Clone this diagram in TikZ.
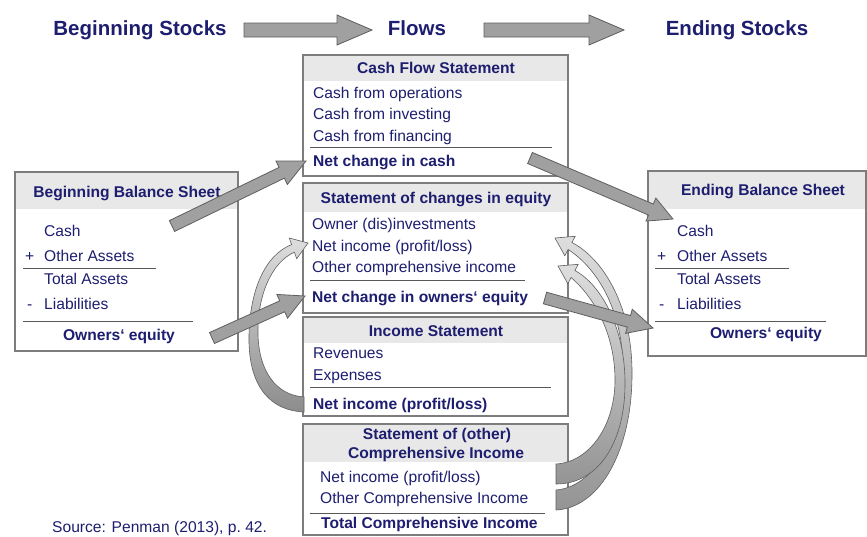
\documentclass[tikz,border=0pt]{standalone}
\usepackage{fontspec}
\setmainfont{Liberation Sans}
\usetikzlibrary{calc}

\definecolor{ink}{RGB}{30,30,112}
\definecolor{band}{RGB}{232,232,232}
\definecolor{frame}{RGB}{125,125,125}
\definecolor{arrowfill}{RGB}{160,160,160}
\definecolor{arrowline}{RGB}{95,95,95}

% straight block arrow: start, tip, shaft half width, head half width, head length
\newcommand\blockarrow[5]{%
  \coordinate (ba-h) at ($(#2)!#5!(#1)$);
  \draw[flowarrow]
    ($(#1)!#3!90:(#2)$) -- ($(ba-h)!#3!90:(#2)$) -- ($(ba-h)!#4!90:(#2)$)
    -- (#2)
    -- ($(ba-h)!#4!-90:(#2)$) -- ($(ba-h)!#3!-90:(#2)$) -- ($(#1)!#3!-90:(#2)$)
    -- cycle;}

\begin{document}
\begin{tikzpicture}[x=1pt,y=-1pt,
  txt/.style={font=\fontsize{15.6}{18}\selectfont, text=ink, inner sep=0pt, anchor=base west},
  bold/.style={txt, font=\fontsize{15.6}{18}\selectfont\bfseries},
  ttl/.style={bold, anchor=base},
  heading/.style={font=\fontsize{20.5}{24}\selectfont\bfseries, text=ink, inner sep=0pt, anchor=base},
  panel/.style={draw=frame, line width=1.3pt, inner sep=0pt, outer sep=0pt, anchor=north west},
  rule/.style={draw=black!65, line width=0.9pt},
  flowarrow/.style={fill=arrowfill, draw=arrowline, line width=0.8pt, line join=miter},
  curvearrow/.style={draw=arrowline, line width=0.6pt, line join=miter},
]
\useasboundingbox (0,0) rectangle (867,536);
\fill[white] (0,0) rectangle (867,536);

% ---------- headings and stage arrows ----------
\node[heading] (begStocks) at (140,35) {Beginning Stocks};
\node[heading] (flows) at (417,35) {Flows};
\node[heading] (endStocks) at (737,35) {Ending Stocks};
\coordinate (s1a) at (244,30); \coordinate (s1b) at (372,30);
\coordinate (s2a) at (484,30); \coordinate (s2b) at (624,30);
\blockarrow{s1a}{s1b}{7pt}{15pt}{35pt}
\blockarrow{s2a}{s2b}{7pt}{15pt}{35pt}

% ---------- Cash Flow Statement ----------
\fill[band] (303,55) rectangle (568,81);
\node[panel, minimum width=265pt, minimum height=121pt] (cfs) at (303,55) {};
\node[ttl] (cfsT) at (436,73.5) {Cash Flow Statement};
\node[txt] (cfs1) at (313,98.5) {Cash from operations};
\node[txt] (cfs2) at (313,119.5) {Cash from investing};
\node[txt] (cfs3) at (313,141.5) {Cash from financing};
\draw[rule] (310,147) -- (552,147);
\node[bold] (cfsNet) at (313,166.5) {Net change in cash};

% ---------- Statement of changes in equity ----------
\fill[band] (303,183) rectangle (568,212);
\node[panel, minimum width=265pt, minimum height=130pt] (soce) at (303,183) {};
\node[ttl] (soceT) at (436,203.5) {Statement of changes in equity};
\node[txt] (soce1) at (312,229.5) {Owner (dis)investments};
\node[txt] (soce2) at (312,251.5) {Net income (profit/loss)};
\node[txt] (soce3) at (312,272.5) {Other comprehensive income};
\draw[rule] (310,280) -- (525,280);
\node[bold] (soceNet) at (312,302.5) {Net change in owners‘ equity};

% ---------- Income Statement ----------
\fill[band] (303,317) rectangle (568,343);
\node[panel, minimum width=265pt, minimum height=99pt] (is) at (303,317) {};
\node[ttl] (isT) at (436,336.5) {Income Statement};
\node[txt] (is1) at (313,358.5) {Revenues};
\node[txt] (is2) at (313,380.5) {Expenses};
\draw[rule] (310,387) -- (551,387);
\node[bold] (isNet) at (313,409.5) {Net income (profit/loss)};

% ---------- Statement of (other) Comprehensive Income ----------
\fill[band] (303,424) rectangle (568,462);
\node[panel, minimum width=265pt, minimum height=111pt] (oci) at (303,424) {};
\node[ttl] (ociT1) at (437,439.5) {Statement of (other)};
\node[ttl] (ociT2) at (436,458.5) {Comprehensive Income};
\node[txt] (oci1) at (320,482.5) {Net income (profit/loss)};
\node[txt] (oci2) at (320,503.5) {Other Comprehensive Income};
\draw[rule] (310,513) -- (545,513);
\node[bold] (ociNet) at (321,528.5) {Total Comprehensive Income};

% ---------- Beginning Balance Sheet ----------
\fill[band] (15,172) rectangle (238,209);
\node[panel, minimum width=223pt, minimum height=179pt] (bbs) at (15,172) {};
\node[ttl] (bbsT) at (127,197.5) {Beginning Balance Sheet};
\node[txt] (bbs1) at (44,236.5) {Cash};
\node[txt] (bbsPlus) at (25,261.5) {+};
\node[txt] (bbs2) at (44,261.5) {Other Assets};
\draw[rule] (23,268) -- (156,268);
\node[txt] (bbs3) at (44,284.5) {Total Assets};
\node[txt] (bbsMinus) at (27,309.5) {-};
\node[txt] (bbs4) at (44,309.5) {Liabilities};
\draw[rule] (23,321) -- (193,321);
\node[ttl] (bbsEq) at (119,340.5) {Owners‘ equity};

% ---------- Ending Balance Sheet ----------
\fill[band] (648,171) rectangle (866,209);
\node[panel, minimum width=218pt, minimum height=185pt] (ebs) at (648,171) {};
\node[ttl] (ebsT) at (763,195.5) {Ending Balance Sheet};
\node[txt] (ebs1) at (677,236.5) {Cash};
\node[txt] (ebsPlus) at (657,261.5) {+};
\node[txt] (ebs2) at (677,261.5) {Other Assets};
\draw[rule] (655,268) -- (789,268);
\node[txt] (ebs3) at (677,284.5) {Total Assets};
\node[txt] (ebsMinus) at (659,309.5) {-};
\node[txt] (ebs4) at (677,309.5) {Liabilities};
\draw[rule] (655,321) -- (826,321);
\node[ttl] (ebsEq) at (766,338.5) {Owners‘ equity};

% ---------- curved arrow: net income into equity ----------
\shadedraw[curvearrow, top color=black!13, bottom color=black!45]
  (308,243) -- (289.3,238) -- (291.6,244.6)
  .. controls (265,255) and (250,290) .. (249,335)
  .. controls (248,380) and (265,410) .. (304,412)
  -- (304,397)
  .. controls (275,395) and (259,370) .. (258,335)
  .. controls (257,295) and (272,262) .. (294.4,252.2)
  -- (296.7,258.7) -- cycle;

% ---------- curved arrows: comprehensive income into equity ----------
\shadedraw[curvearrow, top color=black!13, bottom color=black!42]
  (555,238) -- (575.2,236.3) -- (571.9,242.5)
  .. controls (600,257) and (631,300) .. (632,370)
  .. controls (633,450) and (600,508) .. (556,510)
  -- (556,490)
  .. controls (593,487) and (623,440) .. (623,370)
  .. controls (623,310) and (597,268) .. (568.1,249.5)
  -- (564.8,255.7) -- cycle;
\shadedraw[curvearrow, top color=black!13, bottom color=black!42]
  (558,266) -- (578.2,264.3) -- (574.9,270.5)
  .. controls (600,284) and (624,325) .. (625,380)
  .. controls (626,440) and (600,484) .. (556,484)
  -- (556,464)
  .. controls (590,462) and (615,425) .. (615,380)
  .. controls (615,335) and (595,298) .. (571.1,277.5)
  -- (567.8,283.7) -- cycle;

% ---------- straight flow arrows ----------
\coordinate (bbsOut) at (172,226);  \coordinate (cashIn) at (306,161);
\coordinate (eqOut) at (212,338);   \coordinate (soceIn) at (305,296);
\coordinate (cashOut) at (530,158); \coordinate (ebsCashIn) at (673,219);
\coordinate (soceOut) at (545,298); \coordinate (ebsEqIn) at (653,328);
\blockarrow{bbsOut}{cashIn}{6pt}{13pt}{27pt}
\blockarrow{eqOut}{soceIn}{6pt}{13pt}{25pt}
\blockarrow{cashOut}{ebsCashIn}{6pt}{12.5pt}{24pt}
\blockarrow{soceOut}{ebsEqIn}{6pt}{12.5pt}{25pt}

% ---------- source ----------
\node[txt] (src) at (52,532) {Source: Penman (2013), p.\ 42.};
\end{tikzpicture}
\end{document}
